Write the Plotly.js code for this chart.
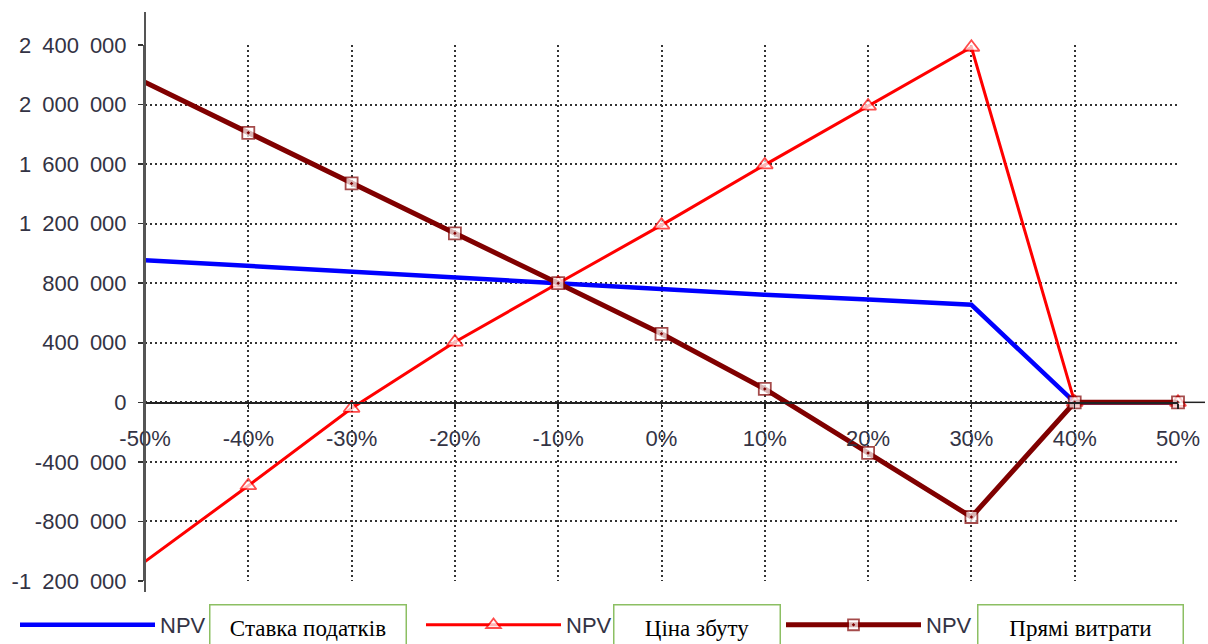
<!DOCTYPE html>
<html>
<head>
<meta charset="utf-8">
<script src="https://cdn.plot.ly/plotly-3.0.1.min.js"></script>
<style>html,body{margin:0;padding:0;background:#fff;}#chart{width:1208px;height:644px;}</style>
</head>
<body>
<div id="chart"></div>
<script>
const xPct = [-50, -40, -30, -20, -10, 0, 10, 20, 30, 40, 50];
const xTickText = ['-50%', '-40%', '-30%', '-20%', '-10%', '0%', '10%', '20%', '30%', '40%', '50%'];
const npvTax = [955000, 915000, 875000, 835000, 795000, 755000, 722000, 690000, 655000, 0, 0];
const npvPrice = [-1070000, -560000, -40000, 405000, 800000, 1190000, 1595000, 1990000, 2385000, 0, 0];
const npvDirect = [2150000, 1810000, 1470000, 1135000, 800000, 460000, 90000, -340000, -770000, 0, 0];
const yTickVals = [-1200000, -800000, -400000, 0, 400000, 800000, 1200000, 1600000, 2000000, 2400000];
const yTickText = ['-1\u2002200\u2002000', '-800\u2002000', '-400\u2002000', '0', '400\u2002000', '800\u2002000', '1\u2002200\u2002000', '1\u2002600\u2002000', '2\u2002000\u2002000', '2\u2002400\u2002000'];
const seriesNames = ['NPV', 'NPV ', 'NPV  '];
const boxLabels = ['Ставка податків', 'Ціна збуту', 'Прямі витрати'];

const yMin = -1200000, yMax = 2400000;
const W = 1208, H = 644, L = 145, R = 30, T = 45, B = 63;
const plotW = W - L - R, plotH = H - T - B;
const px2paperX = p => (p - L) / plotW;
const px2paperY = p => (H - B - p) / plotH;

const markerSizes = s => xPct.map((_, i) => i === 0 ? 0 : s);

const traces = [
  {x: xPct, y: npvTax, name: seriesNames[0], type: 'scatter', mode: 'lines',
   line: {color: '#0000ff', width: 4.5}, legend: 'legend', cliponaxis: false},
  {x: xPct, y: npvPrice, name: seriesNames[1], type: 'scatter', mode: 'lines+markers',
   line: {color: '#ff0000', width: 3},
   marker: {symbol: 'triangle-up', size: markerSizes(14), color: '#ffffff', line: {color: '#ff0000', width: 1.8}},
   legend: 'legend2', cliponaxis: false},
  {x: xPct, y: npvDirect, name: seriesNames[2], type: 'scatter', mode: 'lines+markers',
   line: {color: '#800000', width: 5},
   marker: {symbol: 'square-dot', size: markerSizes(12), color: '#ffffff', line: {color: '#800000', width: 1.8}},
   legend: 'legend3', cliponaxis: false}
];

const legendFont = {family: 'Liberation Sans, Arial, sans-serif', size: 22, color: '#333344'};
const legendBase = {orientation: 'h', xref: 'container', yref: 'container', xanchor: 'left', yanchor: 'middle',
  y: 1 - 625 / H, bgcolor: 'rgba(0,0,0,0)', borderwidth: 0, itemwidth: 135, font: legendFont};

const boxes = [[209, 408], [613, 782], [977, 1185]];
const annotations = boxLabels.map((t, i) => ({
  text: t, xref: 'paper', yref: 'paper', x: px2paperX(boxes[i][0]), y: px2paperY(604),
  xanchor: 'left', yanchor: 'top', showarrow: false, align: 'center', valign: 'middle',
  width: boxes[i][1] - boxes[i][0] - 4, height: 46, borderpad: 0,
  bgcolor: '#ffffff', bordercolor: '#8cbf63', borderwidth: 1.5,
  font: {family: 'Liberation Serif, Times New Roman, serif', size: 23, color: '#000000'}
}));

const gridDash = '2px,3px';
const layout = {
  width: W, height: H,
  margin: {l: L, r: R, t: T, b: B, pad: 0},
  paper_bgcolor: '#ffffff', plot_bgcolor: '#ffffff',
  showlegend: true,
  font: {family: 'Liberation Sans, Arial, sans-serif', size: 22, color: '#333344'},
  xaxis: {
    range: [-50, 50], tickvals: xPct, ticktext: xTickText,
    anchor: 'free', position: (0 - yMin) / (yMax - yMin),
    showline: true, linecolor: '#222222', linewidth: 1.5,
    ticks: 'outside', ticklen: 5, tickcolor: '#222222', tickwidth: 1.5,
    ticklabelstandoff: 11,
    showgrid: true, gridcolor: '#333333', gridwidth: 2, griddash: gridDash,
    zeroline: false, tickfont: {size: 22, color: '#333344'}
  },
  yaxis: {
    range: [yMin, yMax], tickvals: yTickVals, ticktext: yTickText,
    showline: true, linecolor: '#555555', linewidth: 2,
    ticks: 'outside', ticklen: 5, tickcolor: '#333333', tickwidth: 1.5,
    ticklabelstandoff: 7,
    showgrid: true, gridcolor: '#333333', gridwidth: 2, griddash: gridDash,
    zeroline: false, tickfont: {size: 22, color: '#333344'}
  },
  legend: Object.assign({}, legendBase, {x: 15 / W}),
  legend2: Object.assign({}, legendBase, {x: 421 / W}),
  legend3: Object.assign({}, legendBase, {x: 781 / W}),
  shapes: [
    {type: 'line', xref: 'paper', yref: 'paper', x0: 0, x1: 0, y0: px2paperY(592), y1: px2paperY(12),
     line: {color: '#555555', width: 2}, layer: 'above'},
    {type: 'line', xref: 'paper', yref: 'y', x0: 1, x1: px2paperX(1205), y0: 0, y1: 0,
     line: {color: '#222222', width: 1.5}, layer: 'below'}
  ],
  annotations: annotations
};

Plotly.newPlot('chart', traces, layout, {displayModeBar: false, staticPlot: true});
</script>
</body>
</html>
